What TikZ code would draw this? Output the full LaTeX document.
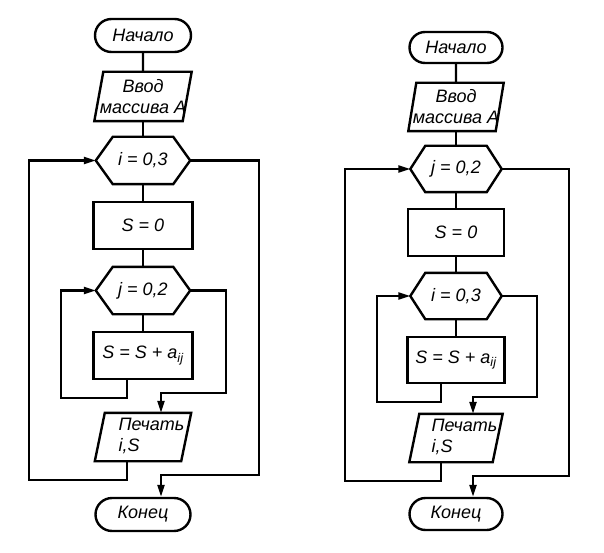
\documentclass[tikz,border=0pt]{standalone}
\usepackage{fontspec}
\setmainfont{Liberation Sans}
\usetikzlibrary{shapes.misc,arrows.meta,calc}
\newcommand{\hexoutline}[2]{\draw[ln] (#1.west) -- ($(#1.north west)+(#2,0)$) -- ($(#1.north east)+(-#2,0)$) -- (#1.east) -- ($(#1.south east)+(-#2,0)$) -- ($(#1.south west)+(#2,0)$) -- cycle;}
\newcommand{\paraoutline}[2]{\draw[ln] (#1.south west) -- ($(#1.north west)+(#2,0)$) -- (#1.north east) -- ($(#1.south east)+(-#2,0)$) -- cycle;}
\newcommand{\printtext}{\begin{tabular}{@{\hspace{17pt}}l@{}}Печать\\i,S\end{tabular}}
\tikzset{
  ln/.style={line width=2.4pt, line join=miter},
  arr/.style={ln, -{Triangle[length=12pt,width=7pt]}},
  txt/.style={font=\fontsize{18}{21}\selectfont\itshape, inner sep=0pt, align=center},
  term/.style={txt, draw, ln, rounded rectangle},
  proc/.style={txt, draw, ln, rectangle},
  shapebox/.style={txt, rectangle},
}
\begin{document}
\begin{tikzpicture}[x=1pt,y=-1pt]
\useasboundingbox[fill=white] (0,0) rectangle (604,553);
% ---------- left diagram ----------
\node[term, minimum width=96pt, minimum height=33pt] (s1) at (143,35.5) {Начало};
\node[shapebox, minimum width=97pt, minimum height=49pt] (in1) at (143,96.5) {Ввод\\массива А};
\paraoutline{in1}{9}
\node[shapebox, minimum width=94pt, minimum height=47pt] (hi1) at (143,160.5) {i = 0,3};
\hexoutline{hi1}{17}
\node[proc, minimum width=99pt, minimum height=47pt] (z1) at (143,225.5) {S = 0};
\node[shapebox, minimum width=94pt, minimum height=47pt] (hj1) at (143,290.5) {j = 0,2};
\hexoutline{hj1}{17}
\node[proc, minimum width=99pt, minimum height=47pt] (sm1) at (143,355.5) {S = S + a\textsubscript{ij}};
\node[shapebox, minimum width=96pt, minimum height=48pt] (pr1) at (143,437) {\printtext};
\paraoutline{pr1}{10}
\node[term, minimum width=95pt, minimum height=33pt] (e1) at (143,514.5) {Конец};
\draw[ln] (s1) -- (in1);
\draw[ln] (in1) -- (hi1);
\draw[ln] (hi1) -- (z1);
\draw[ln] (z1) -- (hj1);
\draw[ln] (hj1) -- (sm1);
\draw[arr] ($(sm1.south)+(-16,0)$) -- ++(0,18) -| ($(hj1.west)+(-35,0)$) -- (hj1.west);
\draw[arr] (hj1.east) -- ++(36,0) |- ($(pr1.north)+(18,-20)$) -- ($(pr1.north)+(18,0)$);
\draw[arr] ($(pr1.south)+(-16,0)$) -- ++(0,19) -| ($(hi1.west)+(-67,0)$) -- (hi1.west);
\draw[arr] (hi1.east) -- ++(69,0) |- ($(e1.north)+(18,-22)$) -- ($(e1.north)+(18,0)$);
% ---------- right diagram ----------
\node[term, minimum width=93pt, minimum height=31pt] (s2) at (456,47.5) {Начало};
\node[shapebox, minimum width=95pt, minimum height=48pt] (in2) at (456,107) {Ввод\\массива А};
\paraoutline{in2}{8}
\node[shapebox, minimum width=91pt, minimum height=46pt] (hj2) at (456,169) {j = 0,2};
\hexoutline{hj2}{15}
\node[proc, minimum width=96pt, minimum height=47pt] (z2) at (456,232.5) {S = 0};
\node[shapebox, minimum width=91pt, minimum height=46pt] (hi2) at (456,296) {i = 0,3};
\hexoutline{hi2}{15}
\node[proc, minimum width=97pt, minimum height=46pt] (sm2) at (456,360) {S = S + a\textsubscript{ij}};
\node[shapebox, minimum width=93pt, minimum height=48pt] (pr2) at (456,438) {\printtext};
\paraoutline{pr2}{10}
\node[term, minimum width=93pt, minimum height=32pt] (e2) at (456,514) {Конец};
\draw[ln] (s2) -- (in2);
\draw[ln] (in2) -- (hj2);
\draw[ln] (hj2) -- (z2);
\draw[ln] (z2) -- (hi2);
\draw[ln] (hi2) -- (sm2);
\draw[arr] ($(sm2.south)+(-15,0)$) -- ++(0,18) -| ($(hi2.west)+(-33.5,0)$) -- (hi2.west);
\draw[arr] (hi2.east) -- ++(35.5,0) |- ($(pr2.north)+(17,-17)$) -- ($(pr2.north)+(17,0)$);
\draw[arr] ($(pr2.south)+(-15,0)$) -- ++(0,19) -| ($(hj2.west)+(-65.5,0)$) -- (hj2.west);
\draw[arr] (hj2.east) -- ++(67.5,0) |- ($(e2.north)+(17,-21)$) -- ($(e2.north)+(17,0)$);
\end{tikzpicture}
\end{document}
